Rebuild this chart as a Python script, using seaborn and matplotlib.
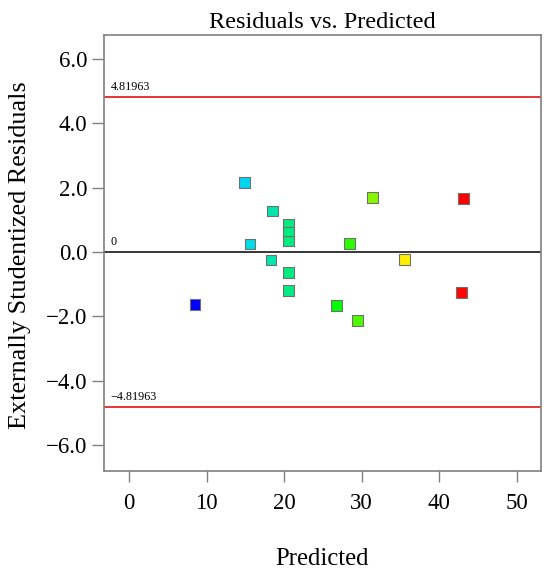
import matplotlib
matplotlib.use("Agg")
import matplotlib.pyplot as plt
from matplotlib.colors import LinearSegmentedColormap
import numpy as np
import pandas as pd
import seaborn as sns

# Residuals vs. Predicted data
predicted = [8.5, 14.9, 15.6, 18.3, 18.5, 20.6, 20.6, 20.6, 20.6, 20.6,
             26.8, 28.4, 29.5, 31.4, 35.5, 42.9, 43.1]
residuals = [-1.63, 2.15, 0.25, -0.25, 1.27, 0.86, 0.60, 0.34, -0.64, -1.21,
             -1.67, 0.27, -2.14, 1.69, -0.23, -1.26, 1.65]
limit = 4.81963
x_ticks = [0, 10, 20, 30, 40, 50]
y_ticks = [-6, -4, -2, 0, 2, 4, 6]

df = pd.DataFrame({"Predicted": predicted, "Residual": residuals})

sns.set_style("white")
plt.rcParams["font.family"] = ["Liberation Serif", "DejaVu Serif"]
plt.rcParams["axes.unicode_minus"] = True
plt.rcParams["text.color"] = "black"
plt.rcParams["axes.labelcolor"] = "black"

# blue -> cyan -> green -> yellow -> red, like the Design-Expert colouring
cmap = LinearSegmentedColormap.from_list(
    "de", [(0.0, "#0000ff"), (0.19, "#00dcf0"), (0.53, "#00ff00"),
           (0.78, "#ffee00"), (1.0, "#ff0000")])

fig = plt.figure(figsize=(5.5, 5.74), dpi=100)
ax = fig.add_axes([0.1896, 0.18, 0.7935, 0.7596])

ax.axhline(limit, color="#e00000", lw=1.1, zorder=1)
ax.axhline(-limit, color="#e00000", lw=1.1, zorder=1)
ax.axhline(0, color="black", lw=1.1, zorder=1)

sns.scatterplot(data=df, x="Predicted", y="Residual", hue="Predicted",
                palette=cmap, hue_norm=(min(predicted), max(predicted)),
                marker="s", s=60, edgecolor="#707070", linewidth=0.8,
                legend=False, ax=ax, zorder=3)

ax.set_xlim(-3.2, 53.1)
ax.set_ylim(-6.80, 6.755)
ax.set_xticks(x_ticks)
ax.set_yticks(y_ticks)
ax.set_yticklabels([f"{v:.1f}".replace("-", "\u2212") for v in y_ticks])

for spine in ax.spines.values():
    spine.set_color("#808080")
    spine.set_linewidth(1.2)

ax.tick_params(axis="both", direction="out", color="#808080", width=1.0,
               labelsize=16.5, labelcolor="black", bottom=True, left=True)
ax.tick_params(axis="x", length=8, pad=8)
ax.tick_params(axis="y", length=8.5, pad=3.5)
ax.grid(False)

ax.set_title("Residuals vs. Predicted", fontsize=17.5, pad=5, color="black")
ax.set_xlabel("Predicted", fontsize=17.8)
ax.set_ylabel("Externally Studentized Residuals", fontsize=18.8)
ax.xaxis.set_label_coords(0.5, -0.177)
ax.yaxis.set_label_coords(-0.167, 0.494)

for val, txt in [(limit, "4.81963"), (0, "0"), (-limit, "\u22124.81963")]:
    ax.annotate(txt, xy=(0.015, val), xycoords=("axes fraction", "data"),
                xytext=(0, 3), textcoords="offset points",
                fontsize=8.7, ha="left", va="bottom", color="black")

fig.savefig("out.png", dpi=100)
